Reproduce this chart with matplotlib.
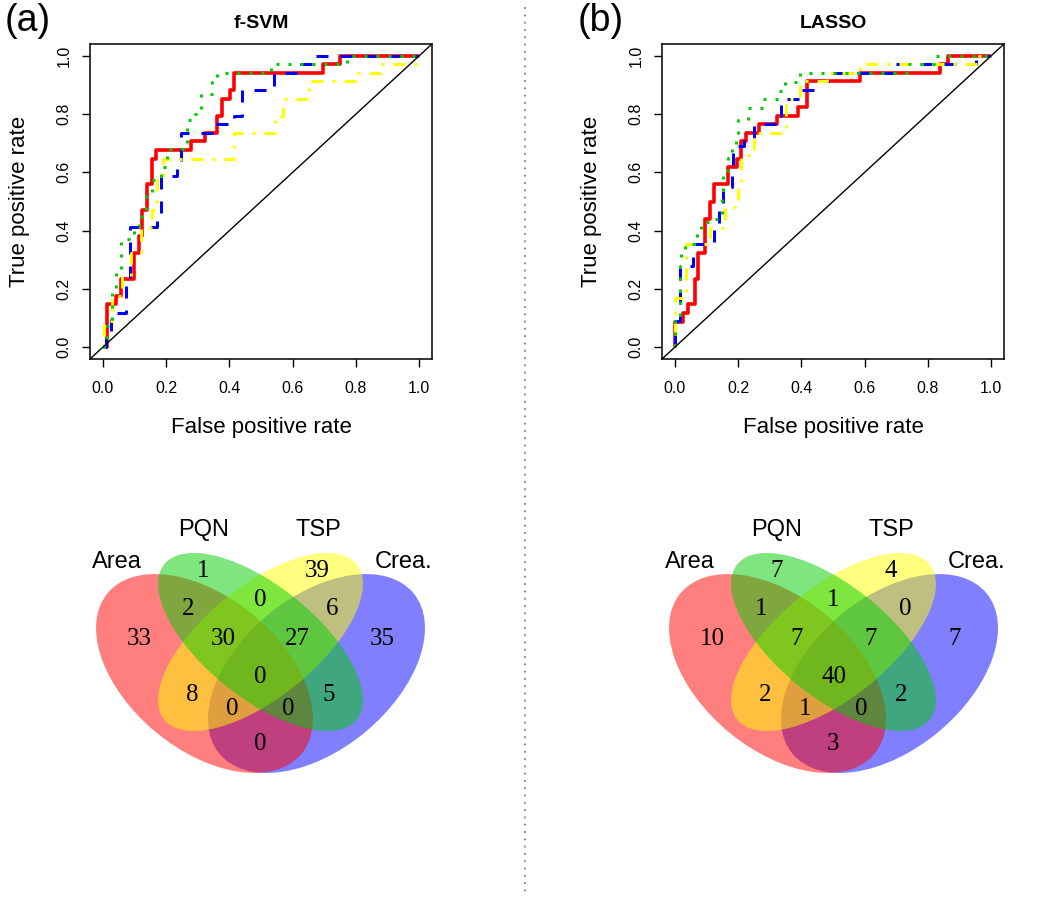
import matplotlib
matplotlib.use("Agg")
import matplotlib.pyplot as plt
from matplotlib.patches import Ellipse
from matplotlib.lines import Line2D

plt.rcParams['font.family'] = ['Liberation Sans', 'DejaVu Sans']

# ---- ROC data, panel (a) f-SVM (corner points after each vertical jump) ----
svm_area_fpr = [0, 0.013, 0.041, 0.059, 0.099, 0.115, 0.125, 0.139, 0.155, 0.167, 0.278, 0.322,
                0.362, 0.377, 0.402, 0.416, 0.695, 0.751, 1.0]
svm_area_tpr = [0, 0.147, 0.176, 0.235, 0.324, 0.382, 0.471, 0.559, 0.647, 0.676, 0.706, 0.735,
                0.794, 0.853, 0.882, 0.941, 0.971, 1.0, 1.0]
svm_crea_fpr = [0, 0.01, 0.027, 0.073, 0.086, 0.17, 0.183, 0.235, 0.248, 0.362, 0.416, 0.44,
                0.54, 0.625, 0.66, 1.0]
svm_crea_tpr = [0, 0.03, 0.118, 0.235, 0.412, 0.441, 0.588, 0.618, 0.735, 0.765, 0.794, 0.882,
                0.941, 0.971, 1.0, 1.0]
svm_tsp_fpr = [0, 0.003, 0.03, 0.06, 0.088, 0.12, 0.157, 0.172, 0.19, 0.416, 0.545, 0.57,
               0.65, 0.80, 0.88, 1.0]
svm_tsp_tpr = [0, 0.09, 0.176, 0.24, 0.324, 0.41, 0.47, 0.59, 0.647, 0.735, 0.794, 0.853,
               0.912, 0.941, 0.971, 1.0]
svm_pqn_fpr = [0, 0.005, 0.015, 0.03, 0.041, 0.057, 0.083, 0.099, 0.115, 0.125, 0.136, 0.157,
               0.183, 0.204, 0.267, 0.293, 0.31, 0.346, 0.362, 0.53, 0.77, 1.0]
svm_pqn_tpr = [0, 0.03, 0.073, 0.19, 0.256, 0.37, 0.38, 0.415, 0.44, 0.47, 0.53, 0.575,
               0.62, 0.68, 0.78, 0.80, 0.87, 0.91, 0.94, 0.97, 1.0, 1.0]

# ---- ROC data, panel (b) LASSO ----
lasso_area_fpr = [0, 0, 0.026, 0.042, 0.063, 0.074, 0.095, 0.111, 0.124, 0.169, 0.197, 0.211,
                  0.225, 0.267, 0.322, 0.39, 0.417, 0.585, 0.837, 0.862, 1.0]
lasso_area_tpr = [0, 0.088, 0.118, 0.147, 0.235, 0.324, 0.441, 0.5, 0.559, 0.618, 0.647, 0.706,
                  0.735, 0.765, 0.794, 0.824, 0.912, 0.941, 0.971, 1.0, 1.0]
lasso_crea_fpr = [0, 0, 0.016, 0.058, 0.125, 0.14, 0.152, 0.18, 0.185, 0.22, 0.25, 0.316,
                  0.337, 0.40, 0.446, 0.50, 0.70, 0.95, 1.0]
lasso_crea_tpr = [0, 0.09, 0.28, 0.353, 0.41, 0.48, 0.55, 0.62, 0.69, 0.706, 0.765, 0.794,
                  0.853, 0.882, 0.912, 0.941, 0.971, 1.0, 1.0]
lasso_tsp_fpr = [0, 0, 0.035, 0.11, 0.16, 0.2, 0.21, 0.25, 0.35, 0.395, 0.48, 0.585, 0.96, 1.0]
lasso_tsp_tpr = [0, 0.17, 0.353, 0.41, 0.48, 0.55, 0.66, 0.735, 0.853, 0.912, 0.941, 0.971, 1.0, 1.0]
lasso_pqn_fpr = [0, 0, 0.016, 0.021, 0.032, 0.07, 0.084, 0.11, 0.148, 0.152, 0.169, 0.18,
                 0.195, 0.2, 0.232, 0.28, 0.327, 0.348, 0.395, 0.74, 0.82, 1.0]
lasso_pqn_tpr = [0, 0.09, 0.28, 0.32, 0.353, 0.40, 0.43, 0.44, 0.52, 0.6, 0.65, 0.68,
                 0.735, 0.78, 0.82, 0.85, 0.88, 0.91, 0.94, 0.97, 1.0, 1.0]

roc_ticks = [0.0, 0.2, 0.4, 0.6, 0.8, 1.0]

# ---- Venn data ----
set_names = ['Area', 'PQN', 'TSP', 'Crea.']
region_keys = ['A', 'P', 'T', 'C', 'AP', 'PT', 'TC', 'APT', 'PTC', 'APTC',
               'AT', 'PC', 'ATC', 'APC', 'AC']
svm_counts = [33, 1, 39, 35, 2, 0, 6, 30, 27, 0, 8, 5, 0, 0, 0]
lasso_counts = [10, 7, 4, 7, 1, 1, 0, 7, 7, 40, 2, 2, 1, 0, 3]

# layout (pixel offsets from venn centre, y downward)
region_pos = {
    'A': (-121.5, 137), 'P': (-57, 69), 'T': (57, 69), 'C': (121.5, 137),
    'AP': (-72, 107), 'PT': (0, 98), 'TC': (72, 107),
    'APT': (-37, 137), 'PTC': (37, 137), 'APTC': (0, 175),
    'AT': (-68, 193), 'PC': (68, 193), 'ATC': (-28, 207), 'APC': (28, 207), 'AC': (0, 242),
}
name_pos = [(-143.5, 62), (-56.5, 30), (58, 30), (143.5, 62)]

W, H = 1050, 900
fig = plt.figure(figsize=(10.5, 9), dpi=100)


def px_rect(x0, y0, x1, y1):
    return [x0 / W, 1 - y1 / H, (x1 - x0) / W, (y1 - y0) / H]


def roc_panel(left, title, tag, tag_x, curves):
    ax = fig.add_axes(px_rect(left, 44, left + 342, 359))
    for fpr, tpr, col, ls, lw in curves:
        ax.plot(fpr, tpr, color=col, linestyle=ls, lw=lw, drawstyle='steps-post',
                solid_capstyle='butt', dash_capstyle='butt')
    ax.axline((0, 0), (1, 1), color='black', lw=1.0)
    ax.set_xlim(-0.04, 1.04)
    ax.set_ylim(-0.04, 1.04)
    ax.set_xticks(roc_ticks)
    ax.set_yticks(roc_ticks)
    ax.set_xticklabels([f"{t:.1f}" for t in roc_ticks])
    ax.set_yticklabels([f"{t:.1f}" for t in roc_ticks], rotation=90, va='center')
    ax.tick_params(axis='both', length=5.5, width=1.0, labelsize=11.5)
    ax.tick_params(axis='x', pad=10)
    ax.tick_params(axis='y', pad=8)
    for s in ax.spines.values():
        s.set_linewidth(1.1)
    ax.set_xlabel('False positive rate', fontsize=16, va='center')
    ax.xaxis.set_label_coords(0.5, (359 - 428) / 315)
    ax.set_ylabel('True positive rate', fontsize=16, va='center')
    ax.yaxis.set_label_coords(-70 / 342, 0.5)
    ax.text(0.5, 1 + 20 / 315, title, transform=ax.transAxes, ha='center', va='center',
            fontsize=14, fontweight='bold')
    fig.text(tag_x / W, 1 - 21 / H, tag, fontsize=27, ha='center', va='center')
    return ax


def venn_panel(cx, counts):
    ax = fig.add_axes(px_rect(cx - 200, 500, cx + 200, 800))
    ax.set_xlim(-200, 200)
    ax.set_ylim(300, 0)
    ax.axis('off')
    # drawing order: Crea., Area, TSP, PQN
    ells = [
        ((56, 173.5), 251.8, 152.4, -39.6, '#0000FF'),
        ((-56, 173.5), 251.8, 152.4, 39.6, '#FF0000'),
        ((0, 142), 247.4, 111.8, -38.9, '#FFFF00'),
        ((0, 142), 247.4, 111.8, 38.9, '#00CD00'),
    ]
    for c, w, h, ang, col in ells:
        ax.add_patch(Ellipse(c, w, h, angle=ang, facecolor=col, alpha=0.5, lw=0))
    for key, n in zip(region_keys, counts):
        x, y = region_pos[key]
        ax.text(x, y + 2, str(n), ha='center', va='center', fontsize=18,
                family=['Liberation Serif', 'DejaVu Serif'])
    for name, (x, y) in zip(set_names, name_pos):
        ax.text(x, y, name, ha='center', va='center', fontsize=17)


roc_panel(90, 'f-SVM', '(a)', 28, [
    (svm_area_fpr, svm_area_tpr, 'red', '-', 2.6),
    (svm_crea_fpr, svm_crea_tpr, 'blue', (0, (4, 4)), 2.16),
    (svm_tsp_fpr, svm_tsp_tpr, 'yellow', (0, (1, 3, 4, 3)), 2.16),
    (svm_pqn_fpr, svm_pqn_tpr, '#00CD00', (0, (1, 3)), 2.16),
])
roc_panel(662, 'LASSO', '(b)', 601, [
    (lasso_area_fpr, lasso_area_tpr, 'red', '-', 2.6),
    (lasso_crea_fpr, lasso_crea_tpr, 'blue', (0, (4, 4)), 2.16),
    (lasso_tsp_fpr, lasso_tsp_tpr, 'yellow', (0, (1, 3, 4, 3)), 2.16),
    (lasso_pqn_fpr, lasso_pqn_tpr, '#00CD00', (0, (1, 3)), 2.16),
])

venn_panel(260.5, svm_counts)
venn_panel(833.5, lasso_counts)

fig.add_artist(Line2D([525 / W, 525 / W], [1 - 7 / H, 1 - 895 / H], transform=fig.transFigure,
                      color='#999999', lw=1.5, linestyle=(0, (1, 2.5))))

fig.savefig('out.png', dpi=100)
